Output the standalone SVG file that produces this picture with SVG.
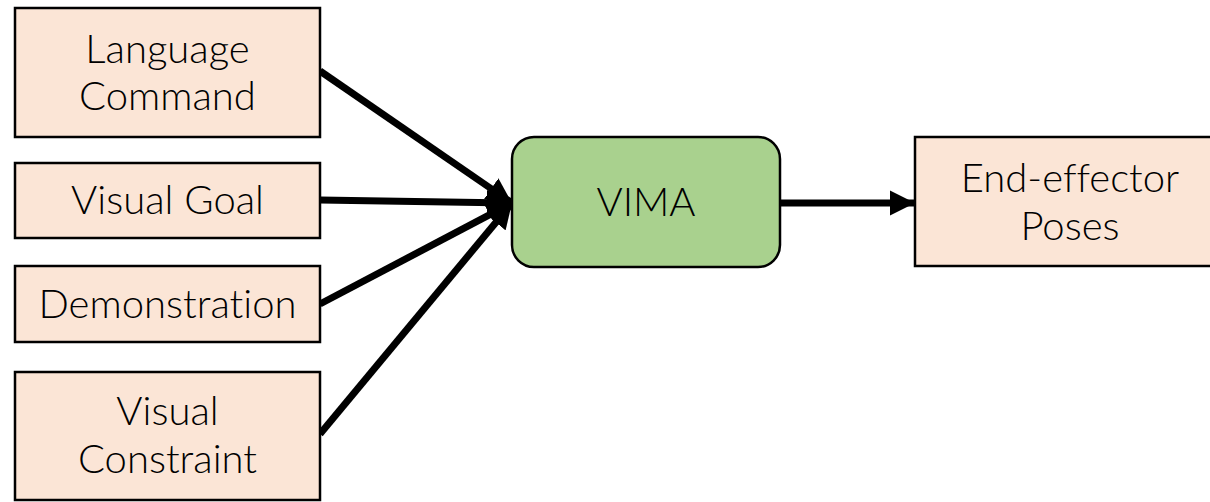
<svg xmlns="http://www.w3.org/2000/svg" width="1210" height="502" viewBox="0 0 1210 502">
<style>
.box{fill:#fbe5d6;stroke:#000;stroke-width:2.5}
.core{fill:#a9d18e;stroke:#000;stroke-width:2.5}
.t{font-family:Lato,"Noto Sans",sans-serif;font-size:40px;font-weight:300;fill:#000;text-anchor:middle;font-variant-ligatures:none}
.c{stroke:#000;stroke-width:7;fill:none}
</style>
<defs>
<marker id="ah" viewBox="0 0 10 10" refX="10" refY="5" markerWidth="3.6" markerHeight="3.6" markerUnits="strokeWidth" orient="auto">
<path d="M0,0 L10,5 L0,10 z" fill="#000"/>
</marker>
</defs>
<rect width="1210" height="502" fill="#fff"/>
<g id="connectors">
<line class="c" x1="320" y1="71" x2="512" y2="203" marker-end="url(#ah)"/>
<line class="c" x1="320" y1="200" x2="512" y2="203" marker-end="url(#ah)"/>
<line class="c" x1="320" y1="304" x2="512" y2="203" marker-end="url(#ah)"/>
<line class="c" x1="320" y1="434" x2="512" y2="203" marker-end="url(#ah)"/>
<line class="c" x1="780" y1="203" x2="915" y2="203" marker-end="url(#ah)"/>
</g>
<g id="language-command">
<rect class="box" x="15" y="8" width="305" height="129"/>
<text class="t" x="167.5" y="63">Language</text>
<text class="t" x="167.5" y="110">Command</text>
</g>
<g id="visual-goal">
<rect class="box" x="15" y="163" width="305" height="75"/>
<text class="t" x="167.5" y="214">Visual Goal</text>
</g>
<g id="demonstration">
<rect class="box" x="15" y="266" width="305" height="76"/>
<text class="t" x="167.5" y="318">Demonstration</text>
</g>
<g id="visual-constraint">
<rect class="box" x="15" y="372" width="305" height="128"/>
<text class="t" x="167.5" y="425">Visual</text>
<text class="t" x="167.5" y="473">Constraint</text>
</g>
<g id="vima">
<rect class="core" x="512" y="137" width="268" height="130" rx="22"/>
<text class="t" x="646" y="216">VIMA</text>
</g>
<g id="end-effector-poses">
<rect class="box" x="915" y="137" width="310" height="129"/>
<text class="t" x="1070" y="192">End-effector</text>
<text class="t" x="1070" y="240">Poses</text>
</g>
</svg>
